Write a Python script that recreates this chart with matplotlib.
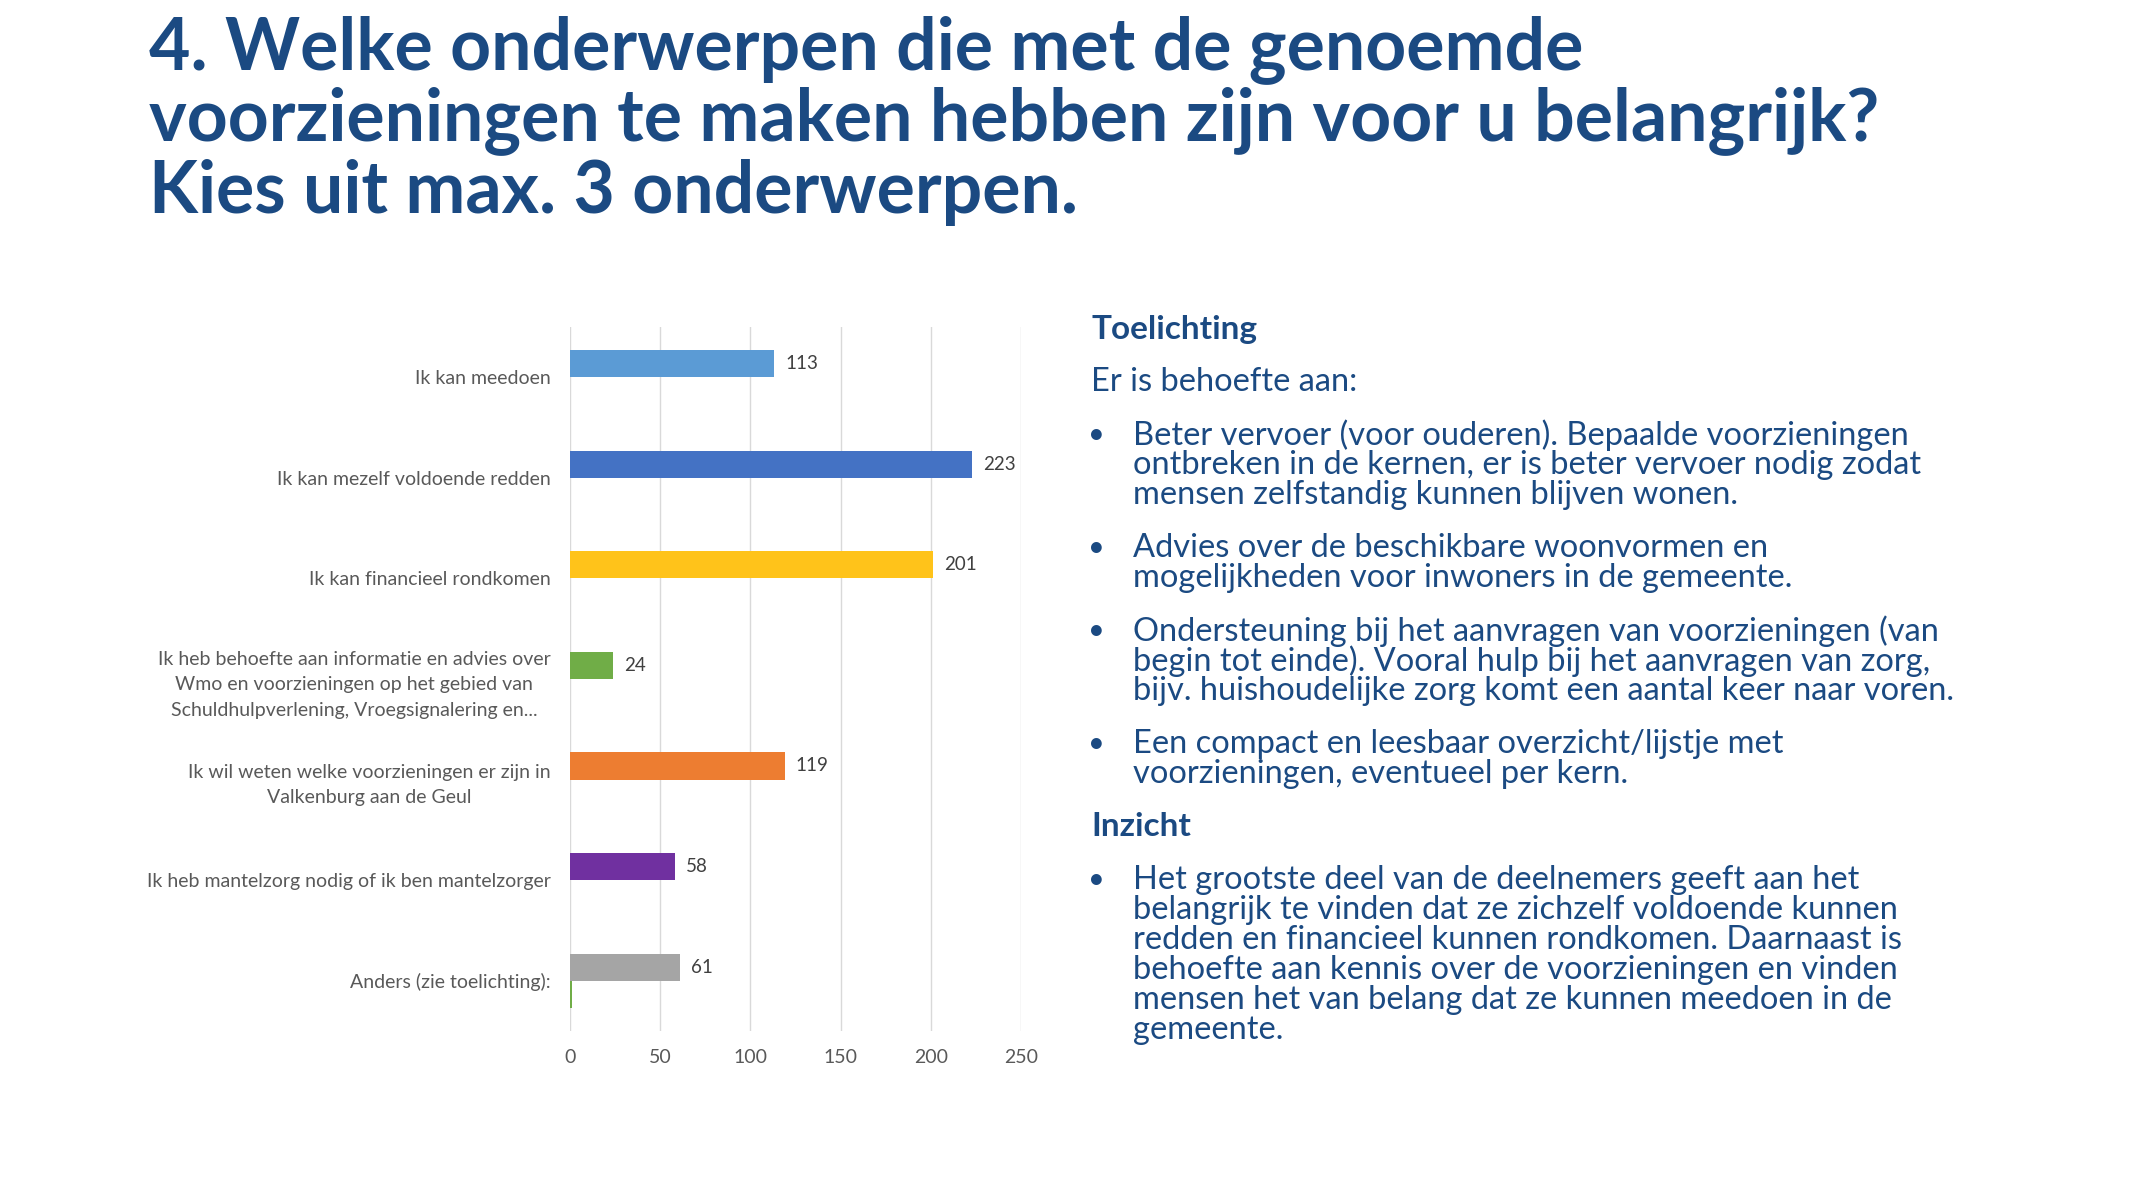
import numpy as np
import matplotlib
matplotlib.use("Agg")
import matplotlib.pyplot as plt

# chart data
categories = [
    "Ik kan meedoen",
    "Ik kan mezelf voldoende redden",
    "Ik kan financieel rondkomen",
    "Ik heb behoefte aan informatie en advies over\nWmo en voorzieningen op het gebied van\nSchuldhulpverlening, Vroegsignalering en...",
    "Ik wil weten welke voorzieningen er zijn in\nValkenburg aan de Geul",
    "Ik heb mantelzorg nodig of ik ben mantelzorger",
    "Anders (zie toelichting):",
]
values = [113, 223, 201, 24, 119, 58, 61]
second_values = [0, 0, 0, 0, 0, 0, 1]
bar_colors = ["#5B9BD5", "#4472C4", "#FFC31A", "#70AD47", "#ED7D31", "#7030A0", "#A5A5A5"]
x_ticks = [0, 50, 100, 150, 200, 250]

title_lines = [
    "4. Welke onderwerpen die met de genoemde",
    "voorzieningen te maken hebben zijn voor u belangrijk?",
    "Kies uit max. 3 onderwerpen.",
]

# right panel: (kind, lines)
notes = [
    ("head", ["Toelichting"]),
    ("text", ["Er is behoefte aan:"]),
    ("bullet", ["Beter vervoer (voor ouderen). Bepaalde voorzieningen",
                "ontbreken in de kernen, er is beter vervoer nodig zodat",
                "mensen zelfstandig kunnen blijven wonen."]),
    ("bullet", ["Advies over de beschikbare woonvormen en",
                "mogelijkheden voor inwoners in de gemeente."]),
    ("bullet", ["Ondersteuning bij het aanvragen van voorzieningen (van",
                "begin tot einde). Vooral hulp bij het aanvragen van zorg,",
                "bijv. huishoudelijke zorg komt een aantal keer naar voren."]),
    ("bullet", ["Een compact en leesbaar overzicht/lijstje met",
                "voorzieningen, eventueel per kern."]),
    ("head", ["Inzicht"]),
    ("bullet", ["Het grootste deel van de deelnemers geeft aan het",
                "belangrijk te vinden dat ze zichzelf voldoende kunnen",
                "redden en financieel kunnen rondkomen. Daarnaast is",
                "behoefte aan kennis over de voorzieningen en vinden",
                "mensen het van belang dat ze kunnen meedoen in de",
                "gemeente."]),
]

W, H = 2129, 1186
BLUE = "#1B4A82"
GREY = "#595959"

fig = plt.figure(figsize=(W / 100, H / 100), dpi=100)


def fx(px):
    return px / W


def fy(py):
    return 1 - py / H


# title
for i, line in enumerate(title_lines):
    fig.text(fx(149), fy(50 + i * 71), line, fontsize=51.5, fontweight="bold",
             family="Lato", color=BLUE, va="center", ha="left")

# bar chart
ax = fig.add_axes([fx(570), fy(1031), fx(1021) - fx(570), fy(327) - fy(1031)])
y = np.arange(len(categories))
ax.barh(y - 0.135, values, height=0.27, color=bar_colors)
ax.barh(y + 0.135, second_values, height=0.27, color="#70AD47")
for yi, v in zip(y, values):
    ax.annotate(str(v), (v, yi - 0.135), xytext=(8, 0), textcoords="offset points",
                va="center", ha="left", fontsize=13.5, family="Lato", color="#404040")

ax.set_xlim(0, 250)
ax.set_ylim(len(categories) - 0.5, -0.5)
ax.set_xticks(x_ticks)
ax.set_yticks(y)
ax.set_yticklabels(categories)
ax.xaxis.grid(True, color="#D9D9D9", linewidth=1)
ax.set_axisbelow(True)
for s in ax.spines.values():
    s.set_visible(False)
ax.tick_params(axis="both", length=0, labelsize=14, labelcolor=GREY)
ax.tick_params(axis="y", pad=14)
ax.tick_params(axis="x", pad=13)
for lab in ax.get_yticklabels() + ax.get_xticklabels():
    lab.set_family("Lato")
for lab in ax.get_yticklabels():
    lab.set_multialignment("center")
    lab.set_linespacing(1.6)

# right panel
ypos = 329
first = True
for kind, lines in notes:
    if not first:
        ypos += 53
    first = False
    for j, line in enumerate(lines):
        if j > 0:
            ypos += 30
        if kind == "head":
            fig.text(fx(1091), fy(ypos), line, fontsize=24, fontweight="bold",
                     family="Lato", color=BLUE, va="center")
        elif kind == "text":
            fig.text(fx(1091), fy(ypos), line, fontsize=23.5,
                     family="Lato", color=BLUE, va="center")
        else:
            if j == 0:
                fig.text(fx(1088), fy(ypos), "\u2022", fontsize=21,
                         family="Lato", color=BLUE, va="center")
            fig.text(fx(1133), fy(ypos), line, fontsize=23.5,
                     family="Lato", color=BLUE, va="center")

fig.savefig("out.png", dpi=100)
